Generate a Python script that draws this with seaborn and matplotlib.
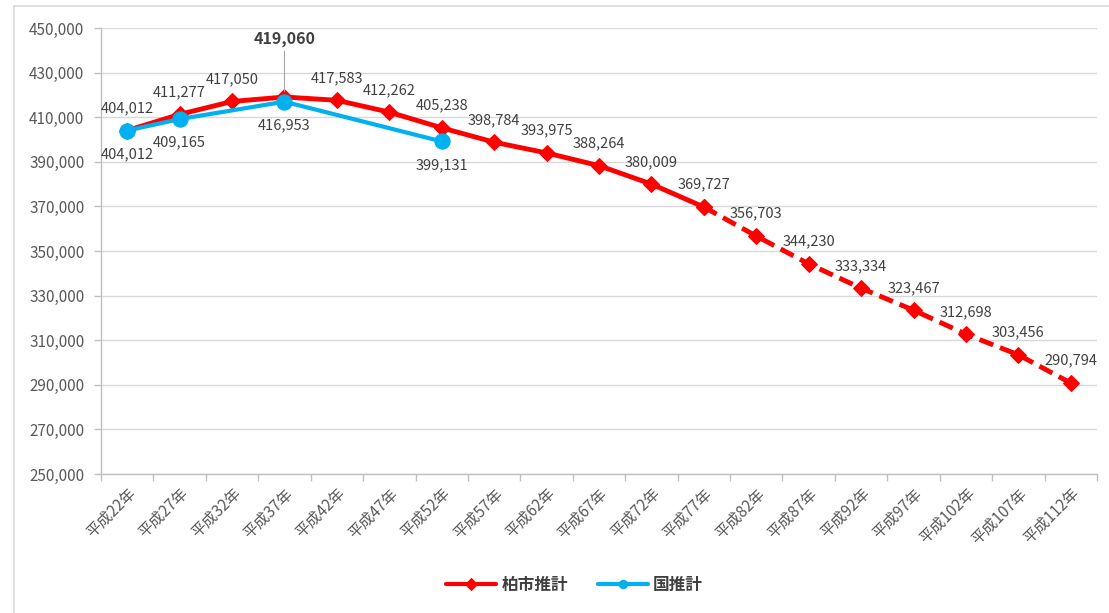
import matplotlib
matplotlib.use("Agg")
import matplotlib.pyplot as plt
import matplotlib.patches as mpatches
import seaborn as sns
import pandas as pd
import numpy as np

categories = ["平成22年", "平成27年", "平成32年", "平成37年", "平成42年", "平成47年",
              "平成52年", "平成57年", "平成62年", "平成67年", "平成72年", "平成77年",
              "平成82年", "平成87年", "平成92年", "平成97年", "平成102年", "平成107年",
              "平成112年"]
kashiwa = [404012, 411277, 417050, 419060, 417583, 412262, 405238, 398784, 393975,
           388264, 380009, 369727, 356703, 344230, 333334, 323467, 312698, 303456, 290794]
kuni_idx = [0, 1, 3, 6]
kuni = [404012, 409165, 416953, 399131]
solid_end = 11  # 平成77年: solid up to here, dashed after
series_names = ["柏市推計", "国推計"]
yticks = list(range(250000, 450001, 20000))

sns.set_theme(style="white")
plt.rcParams['font.family'] = ['Noto Sans CJK JP', 'DejaVu Sans']

RED = "#FF0000"
BLUE = "#00B0F0"
TXT = "#404040"

fig = plt.figure(figsize=(11.09, 6.13), dpi=100)
ax = fig.add_axes([101/1109, 1-474/613, (1097-101)/1109, (474-28)/613])

# outer frame
fig.patches.append(mpatches.Rectangle((14/1109, -0.05), 1.2, 1-6/613+0.05,
                                      transform=fig.transFigure, fill=False,
                                      edgecolor="#D9D9D9", linewidth=1.2, zorder=0))

df_k = pd.DataFrame({"x": np.arange(len(categories)), "y": kashiwa})
df_n = pd.DataFrame({"x": kuni_idx, "y": kuni})

sns.lineplot(data=df_k[df_k.x <= solid_end], x="x", y="y", ax=ax, color=RED,
             linewidth=3.5, marker="D", markersize=8, markeredgecolor=RED,
             label=series_names[0], zorder=3)
sns.lineplot(data=df_k[df_k.x >= solid_end], x="x", y="y", ax=ax, color=RED,
             linewidth=3.5, marker="D", markersize=8, markeredgecolor=RED,
             linestyle=(0, (3, 1.5)), label="_nolegend_", zorder=3)
sns.lineplot(data=df_n, x="x", y="y", ax=ax, color=BLUE, linewidth=3,
             marker="o", markersize=11, markeredgecolor=BLUE,
             label=series_names[1], zorder=4)

# data labels
for i, v in enumerate(kashiwa):
    if i == 3:
        ax.annotate(f"{v:,}", xy=(i, v), xytext=(0, 36), textcoords="offset points",
                    ha="center", va="bottom", fontsize=11.5, fontweight="bold",
                    color=TXT, zorder=5)
        ax.annotate("", xy=(i, v), xytext=(0, 33), textcoords="offset points",
                    xycoords="data",
                    arrowprops=dict(arrowstyle="-", color="#A6A6A6", lw=0.8,
                                    shrinkA=0, shrinkB=4))
    else:
        ax.annotate(f"{v:,}", xy=(i, v), xytext=(0, 11), textcoords="offset points",
                    ha="center", va="bottom", fontsize=10.5, color=TXT, zorder=5)
for i, v in zip(kuni_idx, kuni):
    ax.annotate(f"{v:,}", xy=(i, v), xytext=(0, -12), textcoords="offset points",
                ha="center", va="top", fontsize=10.5, color=TXT, zorder=5)

ax.set_xlim(-0.5, len(categories) - 0.5)
ax.set_ylim(250000, 450000)
ax.set_yticks(yticks)
ax.set_yticklabels([f"{t:,}" for t in yticks], fontsize=11, color="#595959")
ax.set_xticks(np.arange(len(categories)))
ax.set_xticklabels(categories, rotation=45, ha="right", rotation_mode="anchor",
                   fontsize=11, color="#595959")
ax.set_xticks(np.arange(-0.5, len(categories)), minor=True)
ax.tick_params(axis="x", which="major", length=0, pad=8)
ax.tick_params(axis="x", which="minor", length=5, color="#BFBFBF", width=1, bottom=True)
ax.tick_params(axis="y", length=5, color="#BFBFBF", width=1, left=True, pad=7)
ax.set_xlabel("")
ax.set_ylabel("")
ax.grid(axis="y", color="#D9D9D9", linewidth=1)
ax.grid(axis="x", visible=False)
for s in ["top", "right"]:
    ax.spines[s].set_visible(False)
for s in ["left", "bottom"]:
    ax.spines[s].set_color("#BFBFBF")
    ax.spines[s].set_linewidth(1)

handles, labels = ax.get_legend_handles_labels()
ax.get_legend().remove()
leg = fig.legend(handles, labels, loc="center", bbox_to_anchor=(0.518, 1-585/613),
                 ncol=2, frameon=False, fontsize=12, handlelength=3,
                 columnspacing=1.8, handletextpad=0.3)
for h in leg.legend_handles:
    h.set_markersize(6)
    h.set_linewidth(3)
for t in leg.get_texts():
    t.set_color(TXT)
    t.set_fontweight("bold")

fig.savefig("out.png", dpi=100)
